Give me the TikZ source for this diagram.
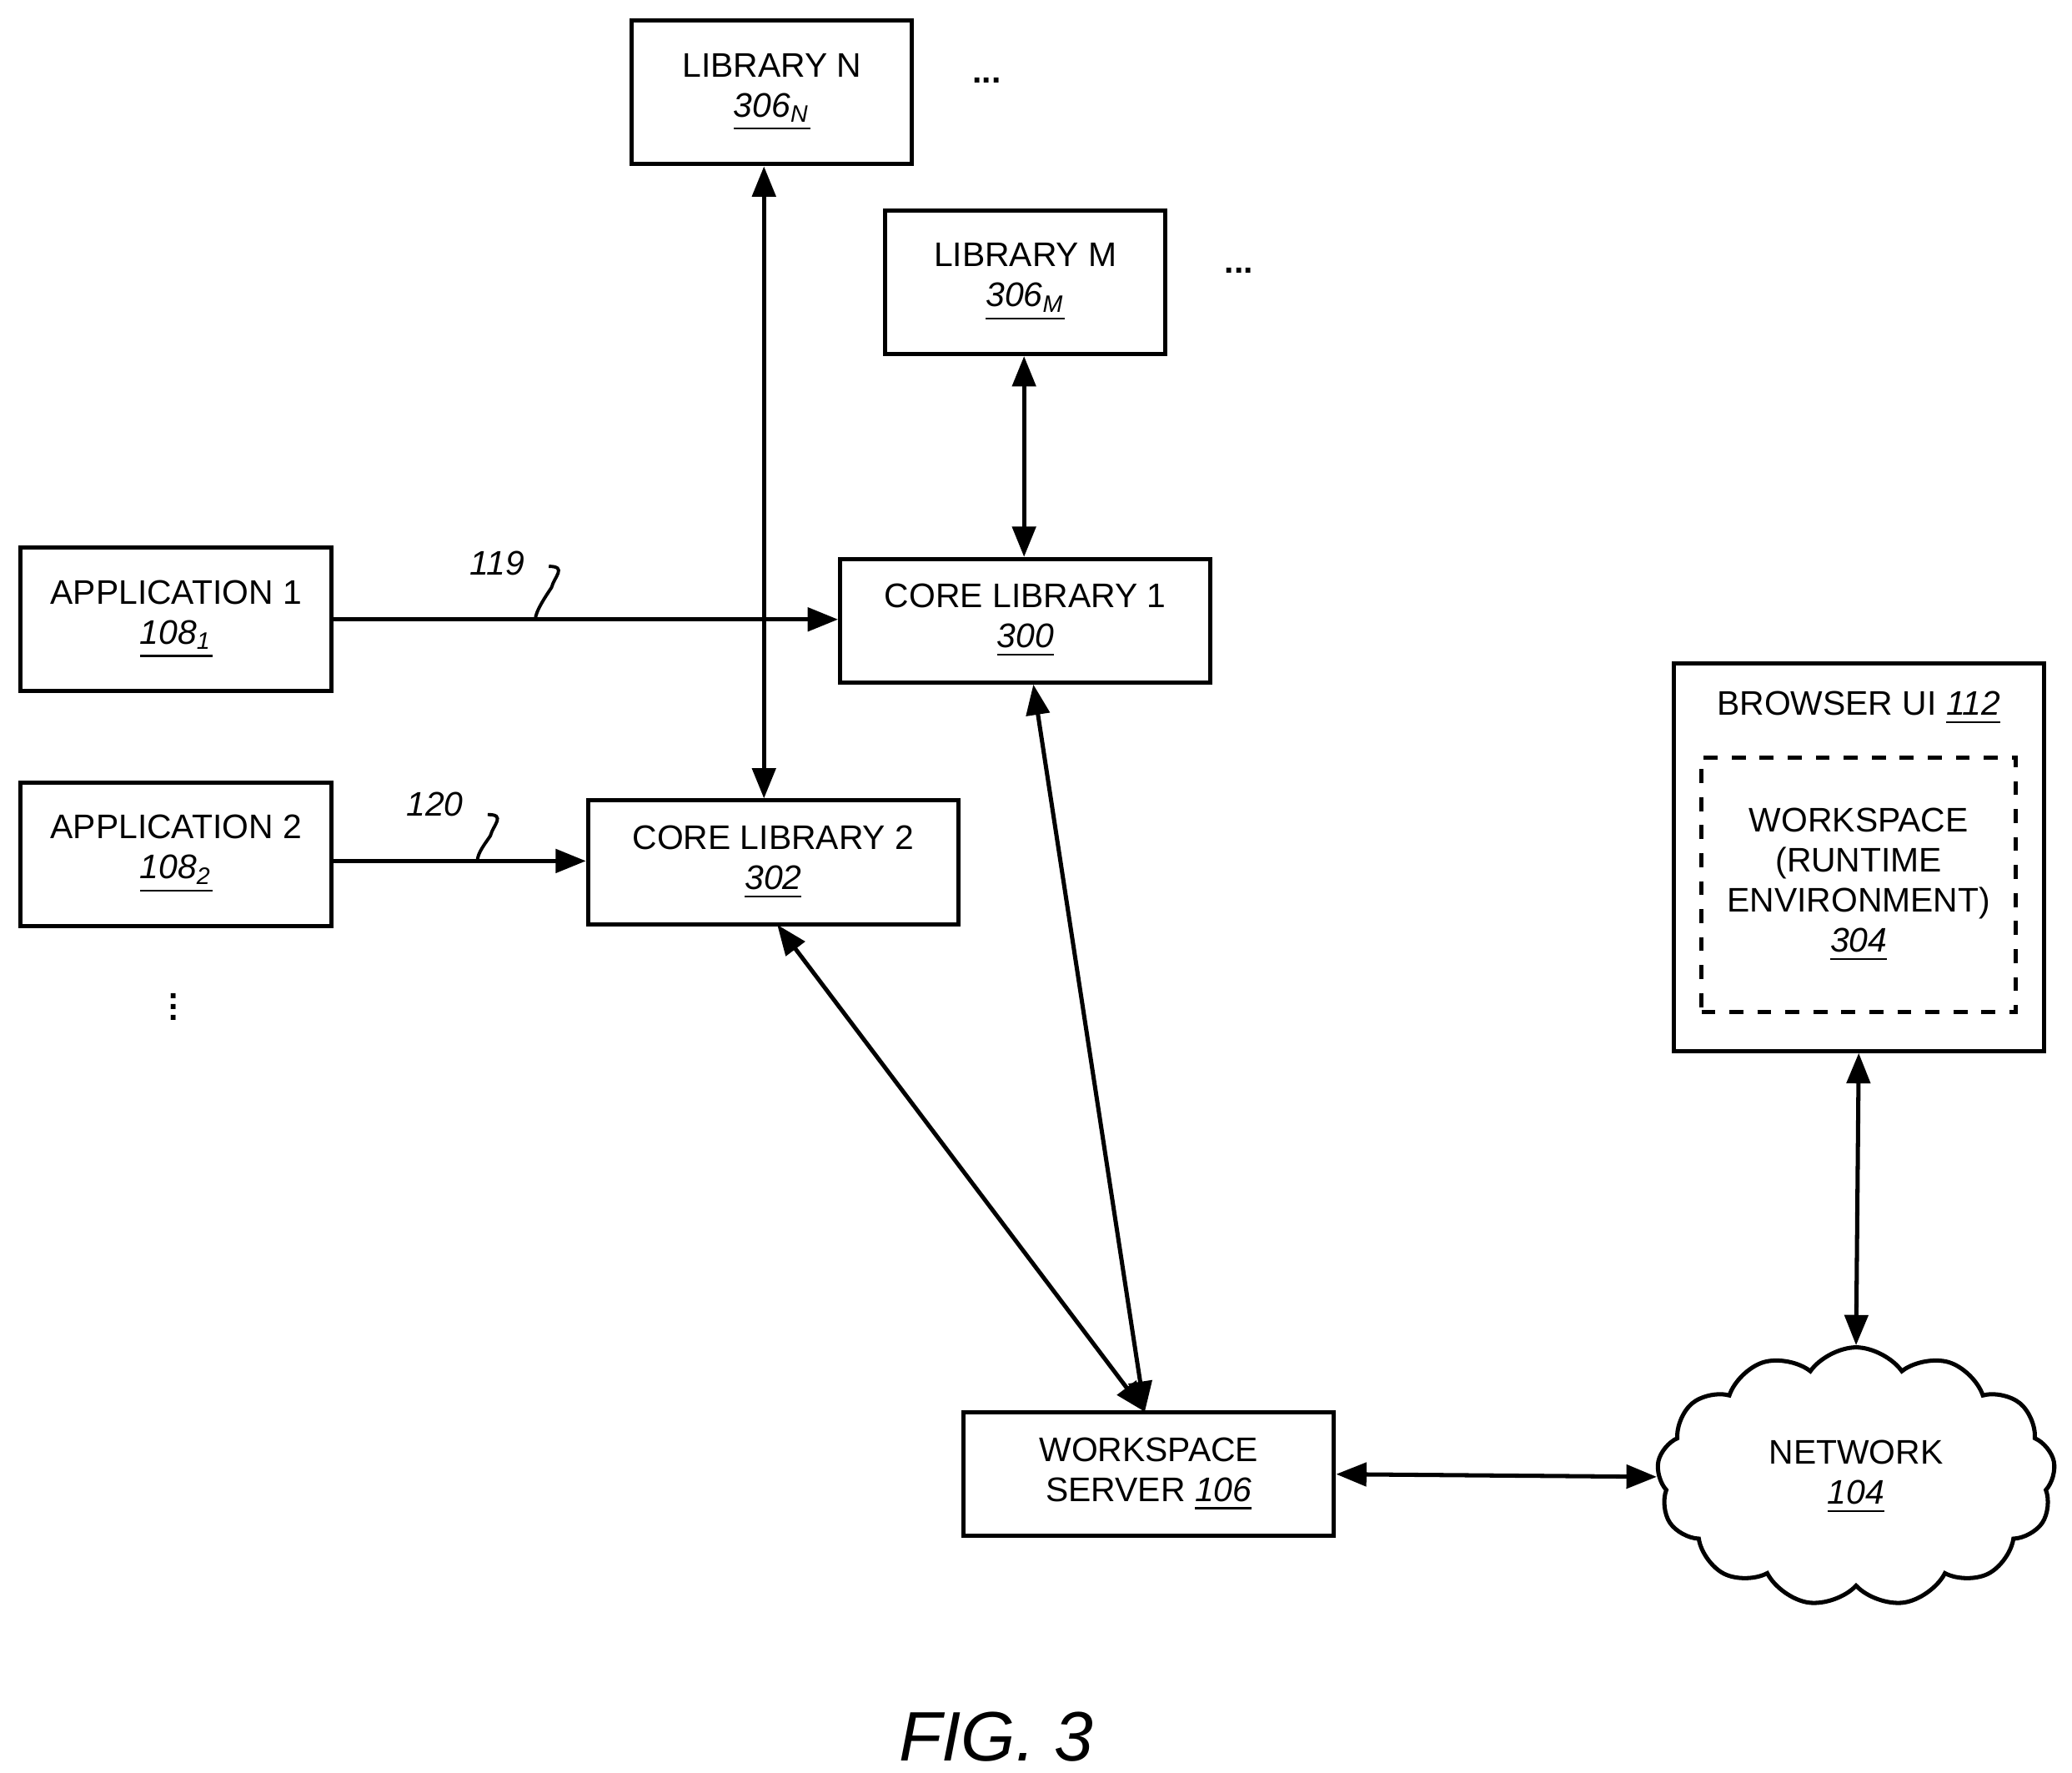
\documentclass[tikz,border=0pt]{standalone}
\usepackage{fontspec}
\setmainfont{Liberation Sans}
\usetikzlibrary{arrows.meta,shapes.symbols}

% Reference number: italic and underlined.
\newcommand{\refnum}[1]{\underline{\textit{#1}}}

\begin{document}
\begin{tikzpicture}[x=0.01cm,y=-0.01cm,
    font=\fontsize{7.3}{8.6}\selectfont,
    box/.style={draw, line width=0.9pt, align=center, inner sep=0pt},
    link/.style={line width=0.9pt, {Triangle[length=6.5pt,width=5pt]}-{Triangle[length=6.5pt,width=5pt]}},
    feed/.style={line width=0.9pt, -{Triangle[length=6.5pt,width=5pt]}},
    squiggle/.style={line width=0.7pt}]
    \draw[use as bounding box, transparent] (0,0) rectangle (1560,1334);

    % LIBRARIES
    \node[box, minimum width=2.11cm, minimum height=1.08cm] (libn) at (581,69) {LIBRARY N\\\refnum{306\textsubscript{N}}};
    \node[box, minimum width=2.11cm, minimum height=1.08cm] (libm) at (772,212) {LIBRARY M\\\refnum{306\textsubscript{M}}};
    \node (dotsn) at (743,60) {\textbf{...}};
    \node (dotsm) at (933,203) {\textbf{...}};

    % APPLICATIONS
    \node[box, minimum width=2.34cm, minimum height=1.08cm] (app1) at (132,466) {APPLICATION 1\\\refnum{108\textsubscript{1}}};
    \node[box, minimum width=2.34cm, minimum height=1.08cm] (app2) at (132,643) {APPLICATION 2\\\refnum{108\textsubscript{2}}};
    \node[font=\fontsize{7.3}{2.4}\selectfont\bfseries, align=center] (dotsa) at (130,758) {.\\.\\.};

    % CORE LIBRARIES
    \node[box, minimum width=2.79cm, minimum height=0.93cm] (core1) at (772,467) {CORE LIBRARY 1\\\refnum{300}};
    \node[box, minimum width=2.79cm, minimum height=0.93cm] (core2) at (582,649) {CORE LIBRARY 2\\\refnum{302}};

    % SERVER, NETWORK, BROWSER
    \node[box, minimum width=2.79cm, minimum height=0.93cm] (server) at (865,1110) {WORKSPACE\\SERVER \refnum{106}};
    \node[cloud, draw, line width=0.9pt, cloud puffs=13, cloud puff arc=110, aspect=1.6,
          minimum width=3.0cm, minimum height=1.95cm, align=center] (network) at (1398,1112) {NETWORK\\\refnum{104}};
    \node[box, minimum width=2.79cm, minimum height=2.92cm] (browser) at (1400,645) {};
    \node[anchor=north] (browserlabel) at (1400,508) {BROWSER UI \refnum{112}};
    \node[draw, dashed, line width=0.9pt, minimum width=2.37cm, minimum height=1.92cm, align=center, inner sep=0pt] (workspace) at (1400,666) {WORKSPACE\\(RUNTIME\\ENVIRONMENT)\\\refnum{304}};

    % CONNECTORS
    \draw[link] (core2.north -| 575,0) -- (libn.south -| 575,0);
    \draw[link] (core1.north -| 771,0) -- (libm.south -| 771,0);
    \draw[feed] (app1.east |- 0,466) -- (core1.west |- 0,466) coordinate[pos=0.40] (p119);
    \draw[feed] (app2.east |- 0,648) -- (core2.west |- 0,648) coordinate[pos=0.57] (p120);
    \draw[link] (778,515) -- (862,1063);
    \draw[link] (585,696) -- (862,1063);
    \draw[link] (server.east) -- (network.west);
    \draw[link] (browser.south) -- (network.north);

    % Labels with squiggles
    \node[font=\fontsize{7.3}{8.6}\selectfont\itshape] (l119) at (374,424) {119};
    \node[font=\fontsize{7.3}{8.6}\selectfont\itshape] (l120) at (327,605) {120};
    \draw[squiggle] (l119.east) ++(6,2) .. controls +(14,0) and +(2,-8) .. ++(2,16) .. controls +(-4,6) and +(0,-6) .. (p119);
    \draw[squiggle] (l120.east) ++(6,8) .. controls +(14,0) and +(2,-8) .. ++(2,16) .. controls +(-4,6) and +(0,-6) .. (p120);

    % Caption
    \node[font=\fontsize{15}{18}\selectfont\itshape] (caption) at (750,1308) {FIG. 3};
\end{tikzpicture}
\end{document}
